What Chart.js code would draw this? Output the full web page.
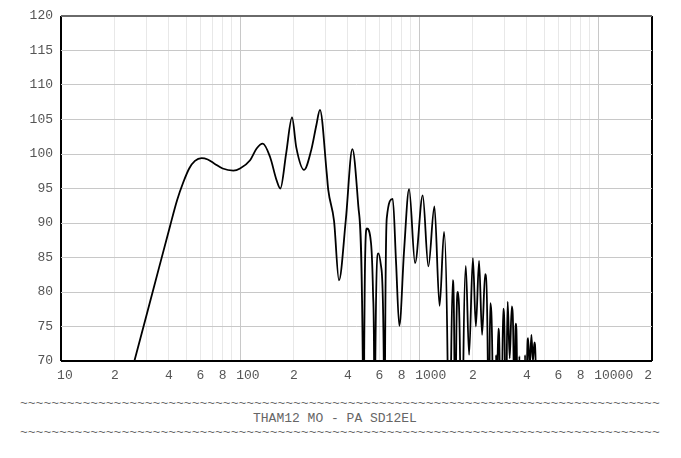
<!DOCTYPE html>
<html>
<head>
<meta charset="utf-8">
<script src="https://cdn.jsdelivr.net/npm/chart.js@4"></script>
<style>
  body { margin: 0; background: #fff; }
  #wrap { position: relative; width: 681px; height: 458px; }
  #spl { position: absolute; left: 0; top: 0; }
  .line { position: absolute; left: 20px; font: 13px 'Liberation Mono', monospace; color: #666; white-space: pre; line-height: 15px; }
</style>
</head>
<body>
<div id="wrap">
  <canvas id="spl" width="681" height="390"></canvas>
  <div class="line" id="tilde1" style="top:396px"></div>
  <div class="line" id="caption" style="top:411px; left:253px"></div>
  <div class="line" id="tilde2" style="top:425px"></div>
</div>
<script>
// frequency response (Hz / dB)
const freqHz = [
  15, 20, 25.7, 32.8, 40.6, 44.5, 48.2, 52, 56, 61, 66, 72, 80, 91.7,
  100, 113.8, 123.8, 133.9, 147, 160, 168, 181, 195.2, 206, 227.8, 250, 267, 279.5,
  305, 311, 335, 357, 389.6, 424, 458, 484.8, 488.6, 492.9, 510.4, 539, 553, 560.6,
  565.5, 569.8, 592.5, 613.5, 635, 640, 645.7, 660, 713, 743.8, 776, 824.6, 879.6,
  950, 1048, 1127, 1218, 1302, 1379, 1443, 1475, 1510, 1543, 1575, 1593, 1610, 1647,
  1695, 1732, 1768, 1824, 1902, 1998, 2076, 2163, 2249, 2338, 2420, 2451, 2477, 2499,
  2568, 2624, 2692, 2720, 2745, 2773, 2817, 2872, 2920, 2953, 3015, 3054, 3090, 3126,
  3207, 3295, 3373, 3407, 3439, 3475, 3520, 3575, 3633, 3714, 3835, 3909, 3960, 4012,
  4064, 4148, 4242, 4324, 4406, 4476, 4600, 5000
];
const splDb = [
  47.2, 59.4, 70, 80.4, 89.5, 93.3, 95.9, 97.9, 99.0, 99.4, 99.2, 98.6, 97.9, 97.6,
  97.9, 99.1, 100.8, 101.5, 99.6, 96.2, 95.0, 100.1, 105.3, 101.0, 97.7, 100.6, 104.2, 106.4,
  97.2, 94.8, 90.3, 81.7, 90.4, 100.7, 92.4, 70, 40, 70, 89.2, 87.1, 80, 70,
  40, 70, 85.6, 83.7, 70, 40, 70, 90.7, 93.5, 84.3, 75.1, 86, 94.9,
  84.2, 94.0, 83.7, 92.4, 78.0, 88.7, 70, 40, 70, 81.7, 70, 40, 70, 80.0,
  70, 40, 70, 83.8, 70.9, 84.9, 75.0, 84.5, 73.8, 82.6, 70, 40, 70, 78.4,
  70, 40, 70.9, 60, 70, 74.7, 70, 40, 70, 77.6, 70, 40, 70, 78.6,
  70.4, 77.9, 70, 40, 70, 75.4, 70, 40, 70.7, 40, 40, 70.9, 45, 70,
  73.3, 69, 73.8, 70, 72.7, 70, 40, 30
];

// grid lines on the log axis, and which of them carry a label
const gridFreqs = [
  10, 20, 30, 40, 50, 60, 70, 80, 90,
  100, 200, 300, 400, 500, 600, 700, 800, 900,
  1000, 2000, 3000, 4000, 5000, 6000, 7000, 8000, 9000,
  10000, 20000
];
const xLabelValues = [10, 20, 40, 60, 80, 100, 200, 400, 600, 800, 1000, 2000, 4000, 6000, 8000, 10000, 20000];
const xLabelTexts = ['10', '2', '4', '6', '8', '100', '2', '4', '6', '8', '1000', '2', '4', '6', '8', '10000', '2'];
const decades = [100, 1000, 10000];

const caption = 'THAM12 MO - PA SD12EL';

document.getElementById('tilde1').textContent = '~'.repeat(82);
document.getElementById('tilde2').textContent = '~'.repeat(82);
document.getElementById('caption').textContent = caption;

const monoFont = { family: "'Liberation Mono', monospace", size: 13 };

new Chart(document.getElementById('spl'), {
  type: 'line',
  data: {
    datasets: [{
      data: freqHz.map((f, i) => ({ x: f, y: splDb[i] })),
      borderColor: '#000',
      borderWidth: 1.8,
      pointRadius: 0,
      fill: false,
      cubicInterpolationMode: 'monotone'
    }]
  },
  options: {
    responsive: false,
    animation: false,
    events: [],
    layout: { padding: { left: 0, top: 16, right: 29, bottom: 0 } },
    plugins: { legend: { display: false }, tooltip: { enabled: false } },
    scales: {
      x: {
        type: 'logarithmic',
        min: 10,
        max: 20000,
        afterBuildTicks: (s) => { s.ticks = gridFreqs.map(v => ({ value: v })); },
        afterFit: (s) => { s.height = 29; },
        border: { display: false },
        grid: {
          drawTicks: false,
          color: (c) => {
            const v = c.tick && c.tick.value;
            if (v === 10 || v === 20000) return '#000';
            return decades.includes(v) ? '#c8c8c8' : '#e8e8e8';
          },
          lineWidth: (c) => {
            const v = c.tick && c.tick.value;
            return (v === 10 || v === 20000) ? 2 : 1;
          }
        },
        ticks: {
          autoSkip: false,
          maxRotation: 0,
          padding: 7,
          font: monoFont,
          color: '#555',
          callback: (v) => {
            const i = xLabelValues.indexOf(v);
            if (i < 0) return '';
            const t = xLabelTexts[i];
            // labels sit just right of their grid line, last one kept inside
            if (v === 20000) return t + ' ';
            return ' '.repeat(t.length - 1) + t;
          }
        }
      },
      y: {
        min: 70,
        max: 120,
        afterFit: (s) => { s.width = 61; },
        border: { display: false },
        grid: {
          drawTicks: false,
          color: (c) => {
            const v = c.tick && c.tick.value;
            if (v === 70) return '#000';
            if (v === 120) return '#6a6a6a';
            return '#c8c8c8';
          },
          lineWidth: (c) => {
            const v = c.tick && c.tick.value;
            return (v === 70 || v === 120) ? 2 : 1;
          }
        },
        ticks: {
          stepSize: 5,
          padding: 8,
          font: monoFont,
          color: '#555'
        }
      }
    }
  }
});
</script>
</body>
</html>
